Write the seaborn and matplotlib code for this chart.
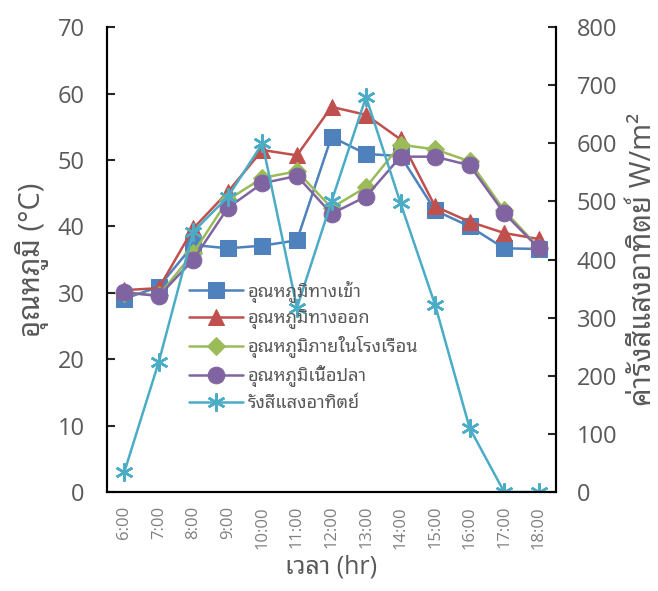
import matplotlib
matplotlib.use("Agg")
import matplotlib.pyplot as plt
import seaborn as sns
import pandas as pd

# data
times = ["6:00", "7:00", "8:00", "9:00", "10:00", "11:00", "12:00",
         "13:00", "14:00", "15:00", "16:00", "17:00", "18:00"]
t_inlet = [29.1, 30.9, 37.2, 36.7, 37.1, 37.9, 53.5, 50.9, 50.6, 42.4, 40.0, 36.7, 36.6]
t_outlet = [30.4, 30.7, 39.7, 45.2, 51.5, 50.7, 58.0, 56.8, 53.1, 43.0, 40.7, 39.0, 38.1]
t_house = [30.0, 29.6, 36.0, 44.0, 47.3, 48.3, 42.8, 45.9, 52.3, 51.6, 49.8, 42.4, 36.8]
t_fish = [30.1, 29.5, 35.0, 42.8, 46.5, 47.6, 41.9, 44.5, 50.5, 50.5, 49.2, 42.0, 36.7]
solar = [34, 224, 448, 508, 600, 317, 500, 680, 497, 322, 110, 0, 0]

labels = ["อุณหภูมิทางเข้า", "อุณหภูมิทางออก", "อุณหภูมิภายในโรงเรือน",
          "อุณหภูมิเนื้อปลา", "รังสีแสงอาทิตย์"]
colors = ["#4F81BD", "#C0504D", "#9BBB59", "#8064A2", "#4BACC6"]

sns.set_style("white")
# Latin in Open Sans, Thai falls back to the looped Thai face
plt.rcParams["font.family"] = ["Open Sans", "Noto Sans Thai Looped", "DejaVu Sans"]
grey = "#595959"

df = pd.DataFrame({"x": range(len(times)), "inlet": t_inlet, "outlet": t_outlet,
                   "house": t_house, "fish": t_fish, "solar": solar})

fig = plt.figure(figsize=(6.58, 5.91), dpi=100)
ax = fig.add_axes([0.1626, 0.1675, 0.6824, 0.7865])
ax2 = ax.twinx()

styles = [("inlet", "s", 11), ("outlet", "^", 11), ("house", "D", 9), ("fish", "o", 12)]
handles = []
for (col, mk, ms), c, lab in zip(styles, colors, labels):
    sns.lineplot(data=df, x="x", y=col, ax=ax, color=c, marker=mk, markersize=ms,
                 markeredgecolor=c, linewidth=1.8, label=lab, legend=False)
    handles.append(ax.lines[-1])

sns.lineplot(data=df, x="x", y="solar", ax=ax2, color=colors[4], marker=(6, 2, 0),
             markersize=13, markeredgewidth=1.8, markeredgecolor=colors[4],
             linewidth=1.8, label=labels[4], legend=False)
handles.append(ax2.lines[-1])

ax.set_xlim(-0.5, len(times) - 0.5)
ax.set_ylim(0, 70)
ax2.set_ylim(0, 800)
ax.set_xticks(range(len(times)))
ax.set_xticklabels(times, rotation=90, fontsize=12, color="#7f7f7f")
ax.set_xticks([i + 0.5 for i in range(-1, len(times))], minor=True)
ax.tick_params(axis="x", which="major", length=0, pad=10)
ax.tick_params(axis="x", which="minor", direction="in", length=6, width=1.5)
ax.set_yticks(range(0, 71, 10))
ax.tick_params(axis="y", direction="in", length=6, width=1.5, labelsize=17,
               labelcolor=grey, pad=16)
ax2.set_yticks(range(0, 801, 100))
ax2.tick_params(axis="y", direction="in", length=6, width=1.5, labelsize=17,
                labelcolor=grey, pad=15)

for a in (ax, ax2):
    a.spines["top"].set_visible(False)
    for s in ("left", "right", "bottom"):
        a.spines[s].set_color("black")
        a.spines[s].set_linewidth(1.5)

ax.set_xlabel("เวลา (hr)", fontsize=18, color=grey, labelpad=4)
ax.set_ylabel("อุณหภูมิ (°C)", fontsize=21, color=grey, labelpad=6)
ax2.set_ylabel("ค่ารังสีแสงอาทิตย์ W/m²", fontsize=21, color=grey, labelpad=8)

ax2.legend(handles=handles, labels=labels, loc="upper left",
           bbox_to_anchor=(0.155, 0.482), frameon=False, fontsize=13,
           labelcolor=grey, handlelength=3.0, borderpad=0.2, labelspacing=0.38,
           handletextpad=0.25)

fig.savefig("out.png", dpi=100)
